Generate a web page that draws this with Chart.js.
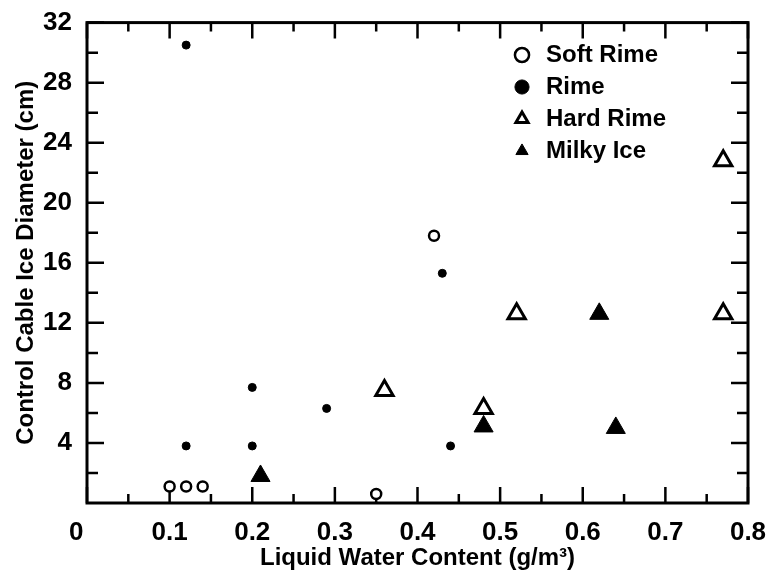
<!DOCTYPE html>
<html>
<head>
<meta charset="utf-8">
<script src="https://cdn.jsdelivr.net/npm/chart.js@4/dist/chart.umd.min.js"></script>
<style>
  html,body{margin:0;padding:0;background:#fff}
  #wrap{width:773px;height:574px;position:relative}
</style>
</head>
<body>
<div id="wrap"><canvas id="c"></canvas></div>
<script>
// data
var softRimeX = [0.10, 0.12, 0.14, 0.35, 0.42]
var softRimeY = [1.1, 1.1, 1.1, 0.6, 17.8]
var rimeX = [0.12, 0.12, 0.20, 0.20, 0.29, 0.43, 0.44]
var rimeY = [30.5, 3.8, 7.7, 3.8, 6.3, 15.3, 3.8]
var hardRimeX = [0.36, 0.48, 0.52, 0.77, 0.77]
var hardRimeY = [7.5, 6.3, 12.6, 12.6, 22.8]
var milkyIceX = [0.21, 0.48, 0.62, 0.64]
var milkyIceY = [1.8, 5.1, 12.6, 5.0]

var xMajor = [0, 0.1, 0.2, 0.3, 0.4, 0.5, 0.6, 0.7, 0.8]
// trailing spaces push the corner "0" a bit left, like the original
var xLabels = ['0   ', '0.1', '0.2', '0.3', '0.4', '0.5', '0.6', '0.7', '0.8']
var xMinor = [0.05, 0.15, 0.25, 0.35, 0.45, 0.55, 0.65, 0.75]
var yMajor = [4, 8, 12, 16, 20, 24, 28, 32]
var yLabels = ['4', '8', '12', '16', '20', '24', '28', '32']
var yMinor = [2, 6, 10, 14, 18, 22, 26, 30]

function pts(xs, ys){
    var out = []
    for(var i=0;i<xs.length;i++) out.push({x:xs[i], y:ys[i]})
    return out
}

var FONT = '"Liberation Sans", Arial, Helvetica, sans-serif'

// box + inward ticks on all four sides
var framePlugin = {
    id: 'frame',
    afterLayout: function(chart){
        // move the in-plot legend to the upper right
        var lg = chart.legend
        if(lg){
            var w = lg.right - lg.left, h = lg.bottom - lg.top
            lg.left = 502; lg.right = 502 + w
            lg.top = 35; lg.bottom = 35 + h
        }
    },
    beforeDatasetsDraw: function(chart){
        var ctx = chart.ctx, a = chart.chartArea
        var sx = chart.scales.x, sy = chart.scales.y
        ctx.save()
        ctx.strokeStyle = '#000'
        ctx.lineWidth = 2.5
        ctx.beginPath()
        function xt(v, len){
            var p = sx.getPixelForValue(v)
            ctx.moveTo(p, a.bottom); ctx.lineTo(p, a.bottom - len)
            ctx.moveTo(p, a.top); ctx.lineTo(p, a.top + len)
        }
        function yt(v, len){
            var p = sy.getPixelForValue(v)
            ctx.moveTo(a.left, p); ctx.lineTo(a.left + len, p)
            ctx.moveTo(a.right, p); ctx.lineTo(a.right - len, p)
        }
        xMajor.forEach(function(v){ xt(v, 16) })
        xMinor.forEach(function(v){ xt(v, 9) })
        yMajor.forEach(function(v){ yt(v, 17) })
        yMinor.forEach(function(v){ yt(v, 11) })
        ctx.stroke()
        ctx.lineWidth = 3
        ctx.strokeRect(a.left, a.top, a.right - a.left, a.bottom - a.top)
        ctx.restore()
    }
}

var chart = new Chart(document.getElementById('c'), {
    type: 'scatter',
    data: {
        datasets: [
            {label: 'Soft Rime', data: pts(softRimeX, softRimeY), pointStyle: 'circle', pointRadius: 5,
             borderWidth: 2.5, borderColor: '#000', backgroundColor: '#fff'},
            {label: 'Rime', data: pts(rimeX, rimeY), pointStyle: 'circle', pointRadius: 4,
             borderWidth: 1, borderColor: '#000', backgroundColor: '#000'},
            {label: 'Hard Rime', data: pts(hardRimeX, hardRimeY), pointStyle: 'triangle', pointRadius: 10,
             borderWidth: 3, borderColor: '#000', backgroundColor: '#fff'},
            {label: 'Milky Ice', data: pts(milkyIceX, milkyIceY), pointStyle: 'triangle', pointRadius: 11,
             borderWidth: 1, borderColor: '#000', backgroundColor: '#000'}
        ]
    },
    options: {
        responsive: true,
        maintainAspectRatio: false,
        animation: false,
        events: [],
        layout: {padding: {top: 20, right: 25, left: 0, bottom: 0}},
        plugins: {
            tooltip: {enabled: false},
            legend: {
                position: 'chartArea',
                align: 'start',
                labels: {
                    usePointStyle: true,
                    boxHeight: 10,
                    padding: 8,
                    color: '#000',
                    font: {family: FONT, size: 24, weight: 'bold'}
                }
            }
        },
        scales: {
            x: {
                type: 'linear', min: 0, max: 0.8,
                grid: {display: false},
                border: {display: false},
                afterBuildTicks: function(s){ s.ticks = xMajor.map(function(v){ return {value: v} }) },
                afterFit: function(s){ s.height = 71 },
                ticks: {
                    color: '#000', padding: 6, maxRotation: 0, autoSkip: false,
                    font: {family: FONT, size: 26, weight: 'bold'},
                    callback: function(v, i){ return xLabels[i] }
                },
                title: {
                    display: true, text: 'Liquid Water Content (g/m³)', color: '#000',
                    font: {family: FONT, size: 24, weight: 'bold'},
                    padding: {top: 0, bottom: 1}
                }
            },
            y: {
                type: 'linear', min: 0, max: 32,
                grid: {display: false},
                border: {display: false},
                afterBuildTicks: function(s){ s.ticks = yMajor.map(function(v){ return {value: v} }) },
                afterFit: function(s){ s.width = 87 },
                ticks: {
                    color: '#000', padding: 7, autoSkip: false,
                    font: {family: FONT, size: 26, weight: 'bold'},
                    callback: function(v, i){ return yLabels[i] }
                },
                title: {
                    display: true, text: 'Control Cable Ice Diameter (cm)', color: '#000',
                    font: {family: FONT, size: 24, weight: 'bold'},
                    padding: {top: 12, bottom: 0}
                }
            }
        }
    },
    plugins: [framePlugin]
})
</script>
</body>
</html>
